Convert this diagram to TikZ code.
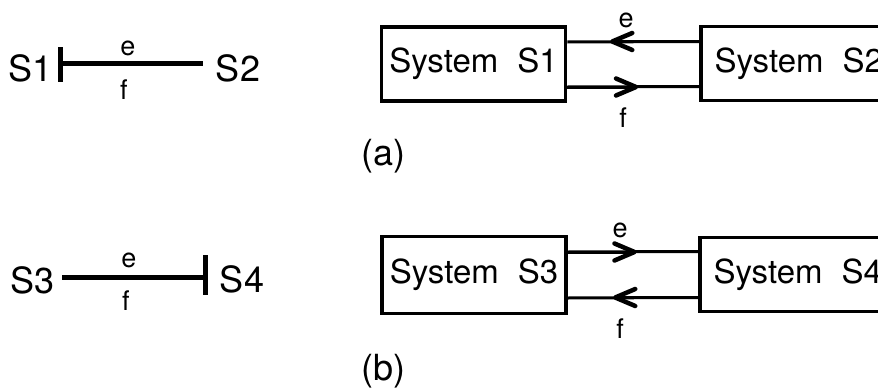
\documentclass[tikz,border=0pt]{standalone}
\usepackage{fontspec}
\setmainfont{TeX Gyre Heros}
\usetikzlibrary{arrows.meta}

\tikzset{
  sysbox/.style={draw, line width=3.5pt, minimum height=74pt, inner sep=0pt,
    font=\fontsize{33}{36}\selectfont},
  big/.style={inner sep=0pt, font=\fontsize{36}{40}\selectfont},
  small/.style={inner sep=0pt, font=\fontsize{27}{30}\selectfont},
  bond/.style={line width=5pt},
  flow/.style={line width=3pt},
  headon/.style={line width=3pt,
    -{Straight Barb[length=20pt, width=17pt, line width=4.5pt, round]}}
}

\begin{document}
\begin{tikzpicture}[x=1pt, y=-1pt]
  \useasboundingbox (0,0) rectangle (878,388);

  % Bindung S1 -- S2 (Strich bei S1)
  \node[big] (s1) at (31,68) {S1};
  \node[big] (s2) at (238,68) {S2};
  \coordinate (b1l) at (60.5,63);
  \coordinate (b1r) at (203,63);
  \draw[bond] (b1l) -- (b1r);
  \draw[bond] (b1l) ++(0,-16) -- ++(0,35);
  \node[small] (e1) at (128,48) {e};
  \node[small] (f1) at (124,90) {f};

  % Blockbild (a)
  \node[sysbox, minimum width=184pt] (sys1) at (473.5,64) {System\hspace{0.3em} S1};
  \node[sysbox, minimum width=196pt, anchor=west] (sys2) at (699,63.5) {System\hspace{0.3em} S2};
  \draw[flow] ([yshift=22pt]sys2.west) -- ([yshift=22pt]sys1.east);
  \draw[headon] ([yshift=22pt]sys2.west) -- ++(-89,0);
  \draw[flow] ([yshift=-23pt]sys1.east) -- ([yshift=-23pt]sys2.west);
  \draw[headon] ([yshift=-23pt]sys1.east) -- ++(71,0);
  \node[small] (e2) at (626,20) {e};
  \node[small] (f2) at (623,118) {f};
  \node[big, anchor=west] (capa) at (361,156) {(a)};

  % Bindung S3 -- S4 (Strich bei S4)
  \node[big] (s3) at (33,280) {S3};
  \node[big] (s4) at (242,279) {S4};
  \coordinate (b2l) at (62,277);
  \coordinate (b2r) at (205,277);
  \draw[bond] (b2l) -- (b2r);
  \draw[bond] (b2r) ++(0,-22) -- ++(0,40);
  \node[small] (e3) at (129,260) {e};
  \node[small] (f3) at (126,301) {f};

  % Blockbild (b)
  \node[sysbox, minimum width=184pt, minimum height=77pt] (sys3) at (474,275) {System\hspace{0.3em} S3};
  \node[sysbox, minimum width=196pt, anchor=west] (sys4) at (698,274.5) {System\hspace{0.3em} S4};
  \draw[flow] ([yshift=23pt]sys3.east) -- ([yshift=23pt]sys4.west);
  \draw[headon] ([yshift=23pt]sys3.east) -- ++(69,0);
  \draw[flow] ([yshift=-23pt]sys4.west) -- ([yshift=-23pt]sys3.east);
  \draw[headon] ([yshift=-23pt]sys4.west) -- ++(-85,0);
  \node[small] (e4) at (620,230) {e};
  \node[small] (f4) at (620,329) {f};
  \node[big, anchor=west] (capb) at (361,371) {(b)};
\end{tikzpicture}
\end{document}
